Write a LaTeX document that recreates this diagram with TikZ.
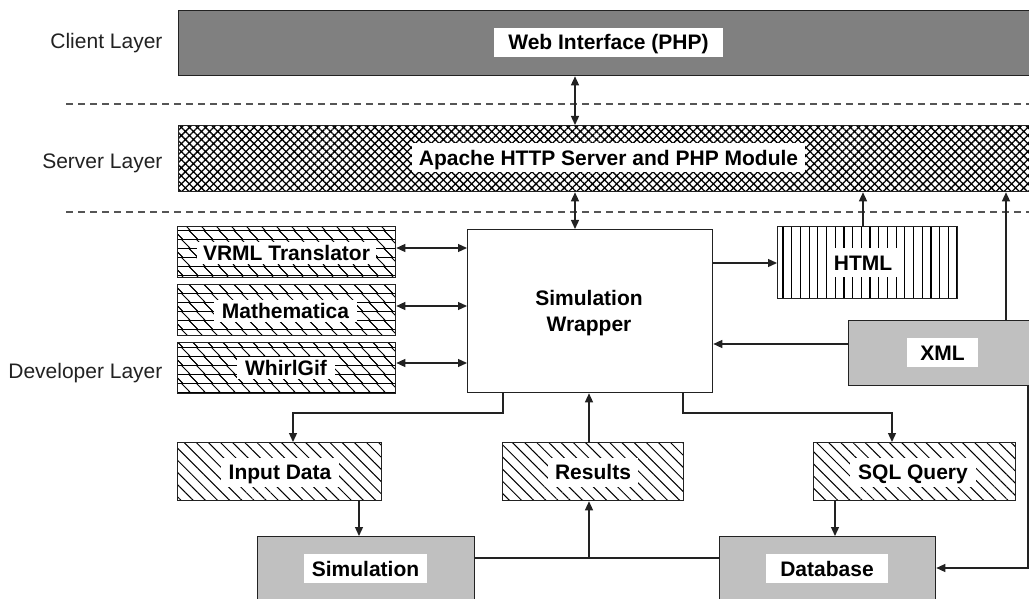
\documentclass[tikz,border=0pt]{standalone}
\usepackage{fontspec}
\setmainfont{Liberation Sans}
\usetikzlibrary{patterns.meta,arrows.meta}
\definecolor{darkfill}{HTML}{808080}
\definecolor{lightfill}{HTML}{C0C0C0}
\definecolor{ink}{HTML}{222222}
\definecolor{dashc}{HTML}{555555}
\newcommand\lbfont{\fontsize{21}{25}\selectfont\bfseries}
\newcommand\lyfont{\fontsize{21}{25}\selectfont}
\tikzdeclarepattern{
  name=bricky,
  type=uncolored,
  bottom left={(-8pt,-1pt)},
  top right={(19pt,19pt)},
  tile size={(15pt,18pt)},
  code={
    \tikzset{x=1pt,y=1pt}
    \draw[line width=0.9pt] (-8,0) -- (19,0) (-8,9) -- (19,9);
    \draw[line width=0.9pt] (1,18) -- (10,9) (-6.5,9) -- (2.5,0) (8.5,9) -- (17.5,0);
  }
}
\tikzset{
  bx/.style={draw=ink, line width=1.3pt, inner sep=0pt, anchor=north west},
  lb/.style={fill=white, font=\lbfont, text=black, text height=17pt, text depth=2pt, inner ysep=5pt, inner xsep=8pt},
  ly/.style={font=\lyfont, anchor=east, text=ink},
  arr/.style={draw=ink, line width=1.3pt, -{Triangle[length=9pt,width=8pt]}},
  darr/.style={draw=ink, line width=1.3pt, {Triangle[length=9pt,width=8pt]}-{Triangle[length=9pt,width=8pt]}},
  ln/.style={draw=ink, line width=1.3pt},
  dsh/.style={draw=dashc, line width=1.2pt, dash pattern=on 7pt off 5pt},
  diag/.style={pattern={Lines[angle=-45,distance=8.6pt,line width=1pt]}},
  cross/.style={pattern={Hatch[angle=45,distance=5.7pt,line width=1.3pt]}},
  vert/.style={pattern={Lines[angle=90,distance=8.7pt,line width=1.2pt]}},
  brk/.style={pattern=bricky},
}
\begin{document}
\begin{tikzpicture}[x=1pt,y=-1pt]
\useasboundingbox (0,0) rectangle (1029,599);
\clip (0,0) rectangle (1029,599);

% layer labels
\node[ly] (lcl) at (166,43.5) {Client Layer};
\node[ly] (lsv) at (166,163) {Server Layer};
\node[ly] (ldv) at (166,373.5) {Developer Layer};

% dashed separators
\coordinate (d1a) at (66,104); \coordinate (d1b) at (1035,104);
\coordinate (d2a) at (66,212); \coordinate (d2b) at (1035,212);
\draw[dsh] (d1a) -- (d1b);
\draw[dsh] (d2a) -- (d2b);

% boxes
\node[bx, fill=darkfill, minimum width=880pt, minimum height=65pt] (client) at (178,10) {};
\node[bx, cross, minimum width=880pt, minimum height=66pt] (server) at (178,125) {};
\node[bx, brk, minimum width=218pt, minimum height=51pt] (vrml) at (177,226) {};
\node[bx, brk, minimum width=218pt, minimum height=51pt] (math) at (177,284) {};
\node[bx, brk, minimum width=218pt, minimum height=51pt] (whirl) at (177,342) {};
\node[bx, fill=white, minimum width=245pt, minimum height=163pt] (wrap) at (467,229) {};
\node[bx, vert, minimum width=180pt, minimum height=72pt] (html) at (777,226) {};
\node[bx, fill=lightfill, minimum width=200pt, minimum height=65pt] (xml) at (848,320) {};
\node[bx, diag, minimum width=204pt, minimum height=58pt] (inp) at (177,442) {};
\node[bx, diag, minimum width=181pt, minimum height=58pt] (res) at (502,442) {};
\node[bx, diag, minimum width=202pt, minimum height=58pt] (sql) at (813,442) {};
\node[bx, fill=lightfill, minimum width=217pt, minimum height=80pt] (sim) at (257,536) {};
\node[bx, fill=lightfill, minimum width=216pt, minimum height=80pt] (db) at (719,536) {};

% labels
\node[lb, inner xsep=14.5pt] (tweb) at (608.5,42.5) {Web Interface (PHP)};
\node[lb, inner xsep=7pt] (tapa) at (608.5,158) {Apache HTTP Server and PHP Module};
\node[lb, inner xsep=6pt, inner ysep=1.5pt] (tvrml) at (286.5,252.5) {VRML Translator};
\node[lb, inner xsep=8pt, inner ysep=1.5pt] (tmath) at (285.5,310.5) {Mathematica};
\node[lb, inner xsep=8pt, inner ysep=1.5pt] (twhirl) at (286,367.5) {WhirlGif};
\node[font=\fontsize{21}{26}\selectfont\bfseries, align=center, text=black] (twrap) at (589,313) {Simulation\\Wrapper};
\node[lb, inner xsep=7pt] (thtml) at (863,262.5) {HTML};
\node[lb, inner xsep=13.5pt] (txml) at (942.5,352.5) {XML};
\node[lb, inner xsep=8pt] (tinp) at (280,472) {Input Data};
\node[lb, inner xsep=7pt] (tres) at (593,472) {Results};
\node[lb, inner xsep=8pt] (tsql) at (913,472) {SQL Query};
\node[lb, inner xsep=8pt] (tsim) at (365.5,568.5) {Simulation};
\node[lb, inner xsep=14.5pt] (tdb) at (827,568.5) {Database};

% connectors
\coordinate (axA) at (575,0);
\draw[darr] (client.south -| axA) -- (server.north -| axA);
\draw[darr] (server.south -| axA) -- (wrap.north -| axA);

\coordinate (v1) at (0,248);
\coordinate (v2) at (0,306);
\coordinate (v3) at (0,363);
\draw[darr] (vrml.east |- v1) -- (wrap.west |- v1);
\draw[darr] (math.east |- v2) -- (wrap.west |- v2);
\draw[darr] (whirl.east |- v3) -- (wrap.west |- v3);

\coordinate (h1) at (0,263);
\draw[arr] (wrap.east |- h1) -- (html.west |- h1);
\coordinate (h2) at (863,0);
\draw[arr] (html.north -| h2) -- (server.south -| h2);

\coordinate (x1) at (1006,0);
\draw[arr] (xml.north -| x1) -- (server.south -| x1);
\coordinate (x2) at (0,344);
\draw[arr] (xml.west |- x2) -- (wrap.east |- x2);
\coordinate (x3) at (1028,568);
\draw[arr] (xml.south -| x3) -- (x3) -- (db.east |- x3);

\coordinate (b1) at (503,413);
\coordinate (b2) at (293,413);
\draw[arr] (wrap.south -| b1) -- (b1) -- (b2) -- (inp.north -| b2);
\coordinate (b3) at (683,413);
\coordinate (b4) at (892,413);
\draw[arr] (wrap.south -| b3) -- (b3) -- (b4) -- (sql.north -| b4);
\coordinate (b5) at (589,0);
\draw[arr] (res.north -| b5) -- (wrap.south -| b5);
\coordinate (b6) at (359,0);
\draw[arr] (inp.south -| b6) -- (sim.north -| b6);
\coordinate (b7) at (835,0);
\draw[arr] (sql.south -| b7) -- (db.north -| b7);
\coordinate (b8) at (589,558);
\draw[ln] (sim.east |- b8) -- (db.west |- b8);
\draw[arr] (b8) -- (res.south -| b8);
\end{tikzpicture}
\end{document}
